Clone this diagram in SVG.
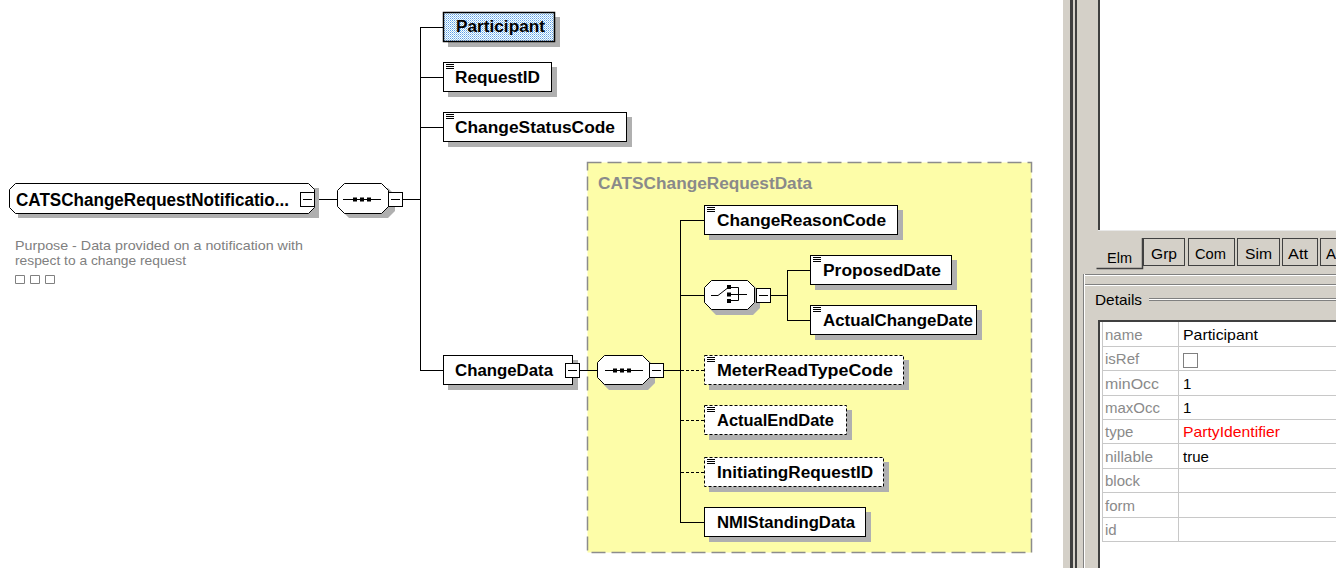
<svg xmlns="http://www.w3.org/2000/svg" width="1336" height="568" viewBox="0 0 1336 568">
<defs>
<pattern id="sel" width="2" height="2" patternUnits="userSpaceOnUse">
<rect width="2" height="2" fill="#ffffff"/><rect width="1" height="1" fill="#5f9fe6"/><rect x="1" y="1" width="1" height="1" fill="#9fd0f0"/>
</pattern>
<g id="ico"><path d="M2,2.5H10M2,4.5H10M2,6.5H10" stroke="#000" stroke-width="1"/></g>
</defs>
<style>
.box{fill:#fff;stroke:#000;stroke-width:1}
.dbox{fill:#fff;stroke:#000;stroke-width:1;stroke-dasharray:3,2}
.sh{fill:#b0b0b0}
.lbl{font-family:"Liberation Sans",Arial,sans-serif;font-weight:bold;font-size:16px;fill:#000}
.ln{stroke:#000;stroke-width:1;fill:none}
.dln{stroke:#000;stroke-width:1;fill:none;stroke-dasharray:3,2}
.oct{fill:#fff;stroke:#000;stroke-width:1}
.mb{fill:#fff;stroke:#000;stroke-width:1}
.pl{font-family:"Liberation Sans",Arial,sans-serif;font-size:15px;fill:#000}
.pg{font-family:"Liberation Sans",Arial,sans-serif;font-size:15px;fill:#8a8a8a}
.grid{stroke:#c8c8c8;stroke-width:1}
.dk{fill:#404040}
.desc{font-family:"Liberation Sans",Arial,sans-serif;font-size:13px;fill:#808080}
</style>
<rect width="1336" height="568" fill="#fff"/>

<g id="catschangerequestdata">
<rect x="587.5" y="162.5" width="444" height="390" fill="#fdfda8" stroke="#8c8c8c" stroke-width="1.5" stroke-dasharray="14,6"/>
<text class="lbl" x="598" y="189" style="fill:#8a8a8a" textLength="214" lengthAdjust="spacingAndGlyphs">CATSChangeRequestData</text>
</g>

<g id="connectors">
<path class="ln" d="M314,199.5H337M402,199.5H420M420.5,27V371M420,27.5H443M420,77.5H443M420,127.5H443M420,370.5H443"/>
<path class="ln" d="M579,370.5H597M664,370.5H680M680.5,220V523M680,220.5H704M680,295.5H704M680,522.5H704"/>
<path class="dln" d="M681,370.5H704M681,420.5H704M681,472.5H704"/>
<path class="ln" d="M770,295.5H787M787.5,270V321M787,270.5H810M787,320.5H810"/>
</g>

<g id="root">
<polygon class="sh" points="18,188 319,188 319,218 18,218"/>
<polygon class="box" points="15.5,183.5 308.5,183.5 314.5,189.5 314.5,207.5 308.5,213.5 15.5,213.5 9.5,207.5 9.5,189.5"/>
<text class="lbl" x="16" y="206" style="font-size:18px" textLength="273" lengthAdjust="spacingAndGlyphs">CATSChangeRequestNotificatio...</text>
<rect class="mb" x="300.5" y="192.5" width="14" height="14"/>
<path class="ln" d="M303,199.5H312"/>
<text class="desc" x="15" y="250" textLength="288" lengthAdjust="spacingAndGlyphs">Purpose - Data provided on a notification with</text>
<text class="desc" x="15" y="265" textLength="171" lengthAdjust="spacingAndGlyphs">respect to a change request</text>
<path d="M15.5,275.5h9v8h-9zM30.5,275.5h9v8h-9zM45.5,275.5h9v8h-9z" fill="none" stroke="#808080"/>
</g>

<g id="seq1">
<polygon class="sh" points="349,188 388,188 395,195 395,211 388,218 349,218 342,211 342,195"/>
<polygon class="oct" points="344.5,183.5 381.5,183.5 388.5,190.5 388.5,206.5 381.5,213.5 344.5,213.5 337.5,206.5 337.5,190.5"/>
<path class="ln" d="M343,199.5H381"/>
<rect x="353" y="197.5" width="4" height="4"/><rect x="360" y="197.5" width="4" height="4"/><rect x="367" y="197.5" width="4" height="4"/>
<rect class="mb" x="388.5" y="192.5" width="14" height="14"/>
<path class="ln" d="M391,199.5H400"/>
</g>

<g id="participant">
<rect class="sh" x="448" y="17" width="112" height="30"/>
<rect x="443.5" y="12.5" width="111" height="29" fill="url(#sel)" stroke="#000" stroke-width="1.5"/>
<text class="lbl" x="456" y="32" textLength="89" lengthAdjust="spacingAndGlyphs">Participant</text>
</g>
<g id="requestid">
<rect class="sh" x="448" y="67" width="109" height="30"/>
<rect class="box" x="443.5" y="62.5" width="108" height="29"/>
<use href="#ico" x="444" y="62"/>
<text class="lbl" x="455" y="83" textLength="85" lengthAdjust="spacingAndGlyphs">RequestID</text>
</g>
<g id="changestatuscode">
<rect class="sh" x="448" y="117" width="184" height="30"/>
<rect class="box" x="443.5" y="112.5" width="183" height="29"/>
<use href="#ico" x="444" y="112"/>
<text class="lbl" x="455" y="133" textLength="160" lengthAdjust="spacingAndGlyphs">ChangeStatusCode</text>
</g>

<g id="changedata">
<rect class="sh" x="448" y="360" width="130" height="30"/>
<rect class="box" x="443.5" y="355.5" width="129" height="29"/>
<text class="lbl" x="455" y="376" textLength="98" lengthAdjust="spacingAndGlyphs">ChangeData</text>
<rect class="mb" x="565.5" y="363.5" width="14" height="14"/>
<path class="ln" d="M568,370.5H577"/>
</g>

<g id="seq2">
<polygon class="sh" points="609,360 648,360 655,367 655,383 648,390 609,390 602,383 602,367"/>
<polygon class="oct" points="604.5,355.5 642.5,355.5 649.5,362.5 649.5,377.5 642.5,384.5 604.5,384.5 597.5,377.5 597.5,362.5"/>
<path class="ln" d="M605,370.5H643"/>
<rect x="613" y="368.5" width="4" height="4"/><rect x="620" y="368.5" width="4" height="4"/><rect x="627" y="368.5" width="4" height="4"/>
<rect class="mb" x="649.5" y="363.5" width="14" height="14"/>
<path class="ln" d="M652,370.5H661"/>
</g>

<g id="changereasoncode">
<rect class="sh" x="709" y="210" width="194" height="30"/>
<rect class="box" x="704.5" y="205.5" width="193" height="29"/>
<use href="#ico" x="705" y="205"/>
<text class="lbl" x="717" y="226" textLength="169" lengthAdjust="spacingAndGlyphs">ChangeReasonCode</text>
</g>

<g id="choice">
<polygon class="sh" points="716,285 753,285 760,292 760,308 753,315 716,315 709,308 709,292"/>
<polygon class="oct" points="711.5,280.5 747.5,280.5 754.5,287.5 754.5,302.5 747.5,309.5 711.5,309.5 704.5,302.5 704.5,287.5"/>
<path class="ln" d="M711,295.5H718L727,288.5M731,287.5H738.5V300.5H731M731,294.5H747"/>
<rect x="727" y="285" width="4" height="4"/><rect x="727" y="292.5" width="4" height="4"/><rect x="727" y="299" width="4" height="4"/>
<rect class="mb" x="756.5" y="288.5" width="14" height="14"/>
<path class="ln" d="M759,295.5H768"/>
</g>

<g id="proposeddate">
<rect class="sh" x="815" y="260" width="142" height="30"/>
<rect class="box" x="810.5" y="255.5" width="141" height="29"/>
<use href="#ico" x="811" y="255"/>
<text class="lbl" x="823" y="276" textLength="118" lengthAdjust="spacingAndGlyphs">ProposedDate</text>
</g>
<g id="actualchangedate">
<rect class="sh" x="815" y="310" width="167" height="30"/>
<rect class="box" x="810.5" y="305.5" width="166" height="29"/>
<use href="#ico" x="811" y="305"/>
<text class="lbl" x="823" y="326" textLength="150" lengthAdjust="spacingAndGlyphs">ActualChangeDate</text>
</g>
<g id="meterreadtypecode">
<rect class="sh" x="709" y="360" width="200" height="30"/>
<rect class="dbox" x="704.5" y="355.5" width="199" height="29"/>
<use href="#ico" x="705" y="355"/>
<text class="lbl" x="717" y="376" textLength="176" lengthAdjust="spacingAndGlyphs">MeterReadTypeCode</text>
</g>
<g id="actualenddate">
<rect class="sh" x="709" y="410" width="143" height="30"/>
<rect class="dbox" x="704.5" y="405.5" width="142" height="29"/>
<use href="#ico" x="705" y="405"/>
<text class="lbl" x="717" y="426" textLength="117" lengthAdjust="spacingAndGlyphs">ActualEndDate</text>
</g>
<g id="initiatingrequestid">
<rect class="sh" x="709" y="462" width="180" height="30"/>
<rect class="dbox" x="704.5" y="457.5" width="179" height="29"/>
<use href="#ico" x="705" y="457"/>
<text class="lbl" x="717" y="478" textLength="156" lengthAdjust="spacingAndGlyphs">InitiatingRequestID</text>
</g>
<g id="nmistandingdata">
<rect class="sh" x="709" y="512" width="162" height="30"/>
<rect class="box" x="704.5" y="507.5" width="161" height="29"/>
<text class="lbl" x="717" y="528" textLength="138" lengthAdjust="spacingAndGlyphs">NMIStandingData</text>
</g>

<g id="panel">
<rect x="1063" y="0" width="273" height="568" fill="#d4d0c8"/>
<rect class="dk" x="1070" y="0" width="3" height="568"/>
<rect class="dk" x="1075" y="0" width="2" height="568"/>
<rect x="1100" y="0" width="236" height="230" fill="#fff"/>
<rect class="dk" x="1098" y="0" width="2" height="231"/>
<rect x="1098" y="230" width="238" height="1" fill="#e8e8e8"/>
<path d="M1096.5,268.5H1142.5V238" fill="none" stroke="#404040" stroke-width="1.5"/>
<rect x="1143.5" y="238.5" width="41" height="27" fill="#d4d0c8" stroke="#404040"/>
<rect x="1188.5" y="238.5" width="46" height="27" fill="#d4d0c8" stroke="#404040"/>
<rect x="1237.5" y="238.5" width="42" height="27" fill="#d4d0c8" stroke="#404040"/>
<rect x="1282.5" y="238.5" width="35" height="27" fill="#d4d0c8" stroke="#404040"/>
<rect x="1320.5" y="238.5" width="30" height="27" fill="#d4d0c8" stroke="#404040"/>
<text class="pl" x="1107" y="263" textLength="25" lengthAdjust="spacingAndGlyphs">Elm</text>
<text class="pl" x="1151" y="259" textLength="26" lengthAdjust="spacingAndGlyphs">Grp</text>
<text class="pl" x="1195" y="259" textLength="31" lengthAdjust="spacingAndGlyphs">Com</text>
<text class="pl" x="1245" y="259" textLength="27" lengthAdjust="spacingAndGlyphs">Sim</text>
<text class="pl" x="1288" y="259" textLength="20" lengthAdjust="spacingAndGlyphs">Att</text>
<text class="pl" x="1326" y="259">A</text>
<rect x="1084" y="274" width="252" height="1" fill="#808080"/>
<rect x="1084" y="275" width="252" height="1" fill="#fff"/>
<rect x="1084" y="284" width="252" height="1" fill="#808080"/>
<rect x="1084" y="285" width="252" height="1" fill="#fff"/>
<rect x="1083" y="274" width="1" height="294" fill="#808080"/>
<rect x="1084" y="274" width="1" height="294" fill="#fff"/>
<text class="pl" x="1095" y="305" textLength="47" lengthAdjust="spacingAndGlyphs">Details</text>
<rect x="1149" y="298" width="187" height="1" fill="#808080"/>
<rect x="1149" y="299" width="187" height="1" fill="#fff"/>
<rect x="1149" y="300" width="187" height="1" fill="#808080"/>
<rect x="1100" y="322" width="236" height="246" fill="#fff"/>
<rect class="dk" x="1098" y="320" width="238" height="2"/>
<rect class="dk" x="1098" y="320" width="2" height="248"/>
<path class="grid" d="M1102,346.5H1336M1102,370.5H1336M1102,395.5H1336M1102,419.5H1336M1102,443.5H1336M1102,468.5H1336M1102,492.5H1336M1102,517.5H1336M1102,541.5H1336M1102.5,322V542M1178.5,322V542"/>
<text class="pg" x="1105" y="340">name</text>
<text class="pg" x="1105" y="364">isRef</text>
<text class="pg" x="1105" y="389" textLength="54" lengthAdjust="spacingAndGlyphs">minOcc</text>
<text class="pg" x="1105" y="413" textLength="55" lengthAdjust="spacingAndGlyphs">maxOcc</text>
<text class="pg" x="1105" y="437">type</text>
<text class="pg" x="1105" y="462" textLength="48" lengthAdjust="spacingAndGlyphs">nillable</text>
<text class="pg" x="1105" y="486">block</text>
<text class="pg" x="1105" y="511">form</text>
<text class="pg" x="1105" y="535">id</text>
<text class="pl" x="1183" y="340" textLength="75" lengthAdjust="spacingAndGlyphs">Participant</text>
<rect x="1183.5" y="353.5" width="14" height="14" fill="#fff" stroke="#808080"/>
<text class="pl" x="1183" y="389">1</text>
<text class="pl" x="1183" y="413">1</text>
<text class="pl" x="1183" y="437" style="fill:#ff0000" textLength="97" lengthAdjust="spacingAndGlyphs">PartyIdentifier</text>
<text class="pl" x="1183" y="462">true</text>
</g>
</svg>
